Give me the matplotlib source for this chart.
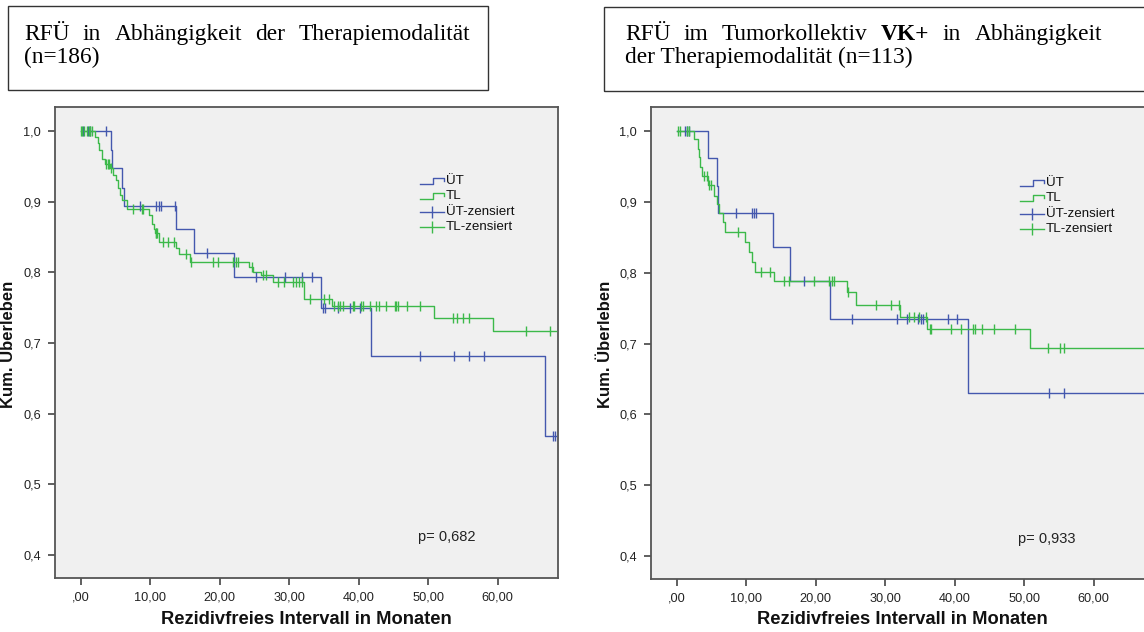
import numpy as np
import matplotlib
matplotlib.use("Agg")
import matplotlib.pyplot as plt
from matplotlib.patches import Rectangle
from matplotlib.lines import Line2D

# ---------------- data ----------------
# Panel A: all tumours (n=186)
a_ut_event_t = [4.3, 4.5, 6.0, 6.2, 13.7, 16.3, 22.1, 34.6, 41.8, 66.9]
a_ut_surv = [0.973, 0.947, 0.920, 0.894, 0.862, 0.828, 0.794, 0.749, 0.682, 0.568]
a_ut_cens = [0.3, 1.0, 1.3, 3.6, 8.6, 10.8, 11.2, 11.5, 13.6, 18.2, 25.3, 29.4, 31.8,
             33.3, 34.9, 35.2, 37.0, 38.8, 40.2, 48.8, 53.7, 55.9, 58.0, 68.0, 68.3]
a_tl_event_t = [2.0, 2.5, 2.7, 3.0, 3.45, 4.2, 4.6, 5.1, 5.4, 5.6, 6.0, 6.6, 9.8, 10.3,
                10.5, 10.7, 11.2, 13.7, 14.1, 15.7, 24.2, 24.8, 26.0, 27.7, 32.1, 36.2,
                50.8, 59.3]
a_tl_surv = [0.992, 0.983, 0.973, 0.961, 0.954, 0.947, 0.938, 0.931, 0.920, 0.909, 0.902,
             0.889, 0.881, 0.869, 0.862, 0.855, 0.843, 0.834, 0.826, 0.815, 0.808, 0.801,
             0.796, 0.787, 0.762, 0.752, 0.735, 0.717]
a_tl_cens = [0.0, 0.2, 0.5, 0.9, 1.2, 1.4, 1.6, 3.6, 3.9, 4.1, 4.4, 7.5, 8.8, 8.95, 10.8,
             10.9, 11.0, 11.8, 12.6, 13.4, 15.2, 15.9, 19.0, 19.8, 21.9, 22.3, 22.6, 24.6,
             26.3, 26.7, 28.4, 29.3, 30.5, 31.0, 31.4, 31.8, 33.0, 35.0, 35.8, 36.5, 37.0,
             37.3, 37.7, 39.2, 39.4, 40.4, 40.6, 41.6, 42.5, 43.0, 44.0, 45.2, 45.4, 45.7,
             46.9, 48.8, 53.6, 54.1, 55.0, 55.9, 64.1, 67.6]
a_end = 68.4
a_p = "p= 0,682"

# Panel B: VK+ tumours (n=113)
b_ut_event_t = [4.5, 5.8, 6.0, 13.8, 16.3, 22.1, 41.9]
b_ut_surv = [0.962, 0.923, 0.885, 0.837, 0.788, 0.735, 0.630]
b_ut_cens = [1.2, 1.5, 1.8, 8.6, 10.9, 11.1, 11.4, 18.3, 25.3, 31.7, 33.2, 34.8, 35.1,
             35.5, 39.0, 40.3, 53.6, 55.8]
b_tl_event_t = [2.5, 3.1, 3.2, 3.3, 3.7, 4.5, 5.4, 5.8, 6.1, 6.7, 6.9, 9.8, 10.4, 10.9,
                11.3, 14.0, 24.5, 25.8, 32.1, 36.0, 50.8]
b_tl_surv = [0.989, 0.975, 0.963, 0.949, 0.937, 0.924, 0.909, 0.897, 0.885, 0.871, 0.857,
             0.843, 0.829, 0.815, 0.801, 0.788, 0.773, 0.755, 0.738, 0.720, 0.693]
b_tl_cens = [0.2, 0.5, 1.5, 1.8, 3.9, 4.3, 4.6, 5.0, 8.8, 12.2, 13.4, 15.4, 16.2, 19.8,
             21.9, 22.3, 22.7, 24.7, 28.7, 30.8, 32.0, 33.4, 34.2, 34.9, 35.9, 36.4, 36.6,
             39.5, 40.9, 42.6, 42.9, 44.0, 45.6, 48.7, 53.4, 55.2, 55.7]
b_end = 68.4
b_p = "p= 0,933"

x_ticks = [0, 10, 20, 30, 40, 50, 60]
x_ticklabels = [",00", "10,00", "20,00", "30,00", "40,00", "50,00", "60,00"]
y_ticks = [0.4, 0.5, 0.6, 0.7, 0.8, 0.9, 1.0]
y_ticklabels = ["0,4", "0,5", "0,6", "0,7", "0,8", "0,9", "1,0"]
legend_labels = ["ÜT", "TL", "ÜT-zensiert", "TL-zensiert"]
x_label = "Rezidivfreies Intervall in Monaten"
y_label = "Kum. Überleben"

BLUE = "#4458ae"
GREEN = "#3cb94a"
BG = "#f0f0f0"
SANS = "Liberation Sans"
SERIF = "Liberation Serif"

W, H = 1144, 632
fig = plt.figure(figsize=(W / 100, H / 100), dpi=100)
fig.patch.set_facecolor("white")


def fx(px):
    return px / W


def fy(py):
    return 1 - py / H


def surv_at(times, event_t, surv):
    et = np.asarray(event_t)
    sv = np.concatenate([[1.0], np.asarray(surv)])
    idx = np.searchsorted(et, np.asarray(times), side="right")
    return sv[idx]


def panel(rect_px, ut, tl, end, ptxt, p_px, leg_px):
    l, t, r, b = rect_px
    ax = fig.add_axes([fx(l), fy(b), (r - l) / W, (b - t) / H])
    ax.set_facecolor(BG)
    ax.set_xlim(-3.7, 68.7)
    ax.set_ylim(0.3675, 1.034)
    for (ev_t, sv, cens), col in ((ut, BLUE), (tl, GREEN)):
        xs = np.concatenate([[0.0], ev_t, [end]])
        ys = np.concatenate([[1.0], sv, [sv[-1]]])
        ax.step(xs, ys, where="post", color=col, lw=1.0, zorder=3)
        cy = surv_at(cens, ev_t, sv)
        ax.plot(cens, cy, ls="none", marker="|", ms=7, mew=1.0, color=col, zorder=4)
    ax.set_xticks(x_ticks)
    ax.set_xticklabels(x_ticklabels)
    ax.set_yticks(y_ticks)
    ax.set_yticklabels(y_ticklabels)
    ax.tick_params(direction="out", length=5, width=1.2, color="#444",
                   labelsize=9.2, labelcolor="#222", pad=5)
    for lab in ax.get_xticklabels() + ax.get_yticklabels():
        lab.set_fontfamily(SANS)
    for sp in ax.spines.values():
        sp.set_color("#555")
        sp.set_linewidth(1.3)
    ax.text((p_px[0] - l) / (r - l), (b - p_px[1]) / (b - t), ptxt,
            transform=ax.transAxes, ha="center", va="center",
            fontsize=10.5, family=SANS, color="#222")
    # legend
    lx, ly = leg_px
    hw = 24
    rows = 15.3
    for i, (lab, col) in enumerate(zip(legend_labels, [BLUE, GREEN, BLUE, GREEN])):
        yc = ly + i * rows
        if i < 2:
            xs = [lx, lx + 13, lx + 13, lx + hw, lx + hw]
            ys = [yc + 3, yc + 3, yc - 3, yc - 3, yc]
            fig.add_artist(Line2D([fx(v) for v in xs], [fy(v) for v in ys],
                                  color=col, lw=1.0, transform=fig.transFigure))
        else:
            fig.add_artist(Line2D([fx(lx), fx(lx + hw)], [fy(yc), fy(yc)],
                                  color=col, lw=1.0, transform=fig.transFigure))
            fig.add_artist(Line2D([fx(lx + hw / 2)], [fy(yc)], marker="|", ms=9,
                                  mew=1.0, color=col, ls="none",
                                  transform=fig.transFigure))
        fig.text(fx(lx + hw + 2), fy(yc), lab, ha="left", va="center",
                 fontsize=9.6, family=SANS, color="#111")
    return ax


ax1 = panel((55, 107, 558, 578),
            (a_ut_event_t, a_ut_surv, a_ut_cens), (a_tl_event_t, a_tl_surv, a_tl_cens),
            a_end, a_p, (447, 537), (420, 181))
ax2 = panel((651, 107, 1154, 579),
            (b_ut_event_t, b_ut_surv, b_ut_cens), (b_tl_event_t, b_tl_surv, b_tl_cens),
            b_end, b_p, (1047, 539), (1020, 183))

# axis labels
for cx in (306, 902):
    fig.text(fx(cx), fy(620), x_label, ha="center", va="center",
             fontsize=13.2, fontweight="bold", family=SANS, color="#111")
for cx in (9, 606):
    fig.text(fx(cx), fy(344), y_label, ha="center", va="center", rotation=90,
             fontsize=12, fontweight="bold", family=SANS, color="#111")

# title boxes
fig.add_artist(Rectangle((fx(8), fy(90)), (488 - 8) / W, (90 - 6) / H,
                         transform=fig.transFigure, fill=False, ec="#333", lw=1.0))
fig.add_artist(Rectangle((fx(604), fy(91)), (1160 - 604) / W, (91 - 7) / H,
                         transform=fig.transFigure, fill=False, ec="#333", lw=1.0))

renderer = fig.canvas.get_renderer()
TSIZE = 16.8


def place_justified(words, weights, x0, x1, ybase, size=TSIZE):
    texts = [fig.text(0, fy(ybase), w, va="baseline", ha="left", fontsize=size,
                      family=SERIF, fontweight=wt, color="black")
             for w, wt in zip(words, weights)]
    widths = [tx.get_window_extent(renderer).width for tx in texts]
    gap = (x1 - x0 - sum(widths)) / (len(words) - 1)
    x = x0
    for tx, wd in zip(texts, widths):
        tx.set_x(fx(x))
        x += wd + gap


place_justified(["RFÜ", "in", "Abhängigkeit", "der", "Therapiemodalität"],
                ["normal"] * 5, 24, 470, 40)
fig.text(fx(24), fy(63), "(n=186)", va="baseline", ha="left", fontsize=TSIZE,
         family=SERIF, color="black")
place_justified(["RFÜ", "im", "Tumorkollektiv", "VK+", "in", "Abhängigkeit"],
                ["normal", "normal", "normal", "bold", "normal", "normal"], 625, 1102, 40)
fig.text(fx(625), fy(63), "der Therapiemodalität (n=113)", va="baseline", ha="left",
         fontsize=TSIZE, family=SERIF, color="black")

fig.savefig("out.png", dpi=100, facecolor="white")
